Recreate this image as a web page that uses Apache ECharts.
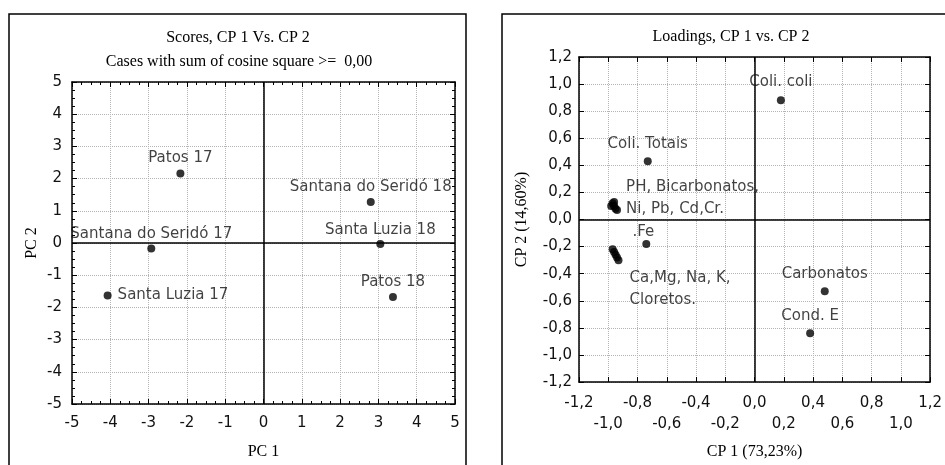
<!DOCTYPE html>
<html>
<head>
<meta charset="utf-8">
<script src="https://cdn.jsdelivr.net/npm/echarts@6/dist/echarts.min.js"></script>
<style>
html,body{margin:0;padding:0;background:#fff;}
#chart{width:945px;height:465px;}
</style>
</head>
<body>
<div id="chart"></div>
<script>
// ---- Scores (left panel) ----
const scoreNames = ['Patos 17', 'Santana do Seridó 17', 'Santa Luzia 17', 'Santana do Seridó 18', 'Santa Luzia 18', 'Patos 18'];
const scoreX = [-2.17, -2.93, -4.07, 2.80, 3.05, 3.38];
const scoreY = [2.16, -0.17, -1.63, 1.27, -0.03, -1.68];
const scoreTicks = { min: -5, max: 5, step: 1 };

// ---- Loadings (right panel) ----
const loadNames = ['Coli. coli', 'Coli. Totais', 'PH', 'Bicarbonatos', 'Ni', 'Pb', 'Cd', 'Cr', 'Fe',
                   'Ca', 'Mg', 'Na', 'K', 'Cloretos', 'Carbonatos', 'Cond. E'];
const loadX = [0.18, -0.73, -0.97, -0.96, -0.98, -0.95, -0.94, -0.96, -0.74,
               -0.97, -0.96, -0.95, -0.94, -0.93, 0.48, 0.38];
const loadY = [0.88, 0.43, 0.12, 0.10, 0.10, 0.08, 0.07, 0.13, -0.18,
               -0.22, -0.24, -0.26, -0.28, -0.30, -0.53, -0.84];
const loadLabels = ['Coli. coli', 'Coli. Totais', '', 'PH, Bicarbonatos,\nNi, Pb, Cd,Cr.', '', '', '', '', '.Fe',
                    '', '', 'Ca,Mg, Na, K,\nCloretos.', '', '', 'Carbonatos', 'Cond. E'];
const loadTicks = { min: -1.2, max: 1.2, step: 0.2 };

// label placement (style only)
const scoreLabelStyle = [
  { position: 'top', distance: 4 },
  { position: 'top', distance: 3 },
  { position: 'right', distance: 6 },
  { position: 'top', distance: 3 },
  { position: 'top', distance: 2 },
  { position: 'top', distance: 3 }
];
const loadLabelStyle = {
  'Coli. coli': { position: 'top', distance: 3 },
  'Coli. Totais': { position: 'top', distance: 2 },
  'Bicarbonatos': { position: 'right', distance: 8, offset: [0, -8] },
  'Fe': { position: 'top', distance: 0, offset: [-3, 3] },
  'Na': { position: 'right', distance: 10, offset: [0, 34] },
  'Carbonatos': { position: 'top', distance: 2 },
  'Cond. E': { position: 'top', distance: 2 }
};

const SANS = 'DejaVu Sans';
const SERIF = 'Liberation Serif';
const labelFont = { fontFamily: SANS, fontSize: 15, color: '#111' };

function fmtComma(v) { return v.toFixed(1).replace('.', ',').replace(/^-0,0$/, '0,0'); }

const gridLine = { show: true, lineStyle: { color: '#b4b4b4', type: 'dotted', width: 1 } };
const boxLine = { show: true, onZero: false, lineStyle: { color: '#000', width: 1.5 } };

function mkAxis(dim, grid, pos, ticks, opts) {
  const main = opts.main;
  const ax = {
    type: 'value', gridIndex: grid, position: pos,
    min: ticks.min, max: ticks.max, interval: ticks.step,
    axisLine: boxLine,
    axisTick: { show: true, inside: true, length: 5, lineStyle: { color: '#000', width: 1 } },
    minorTick: opts.minor ? { show: true, splitNumber: 4, length: 3, lineStyle: { color: '#000', width: 1 } } : { show: false },
    splitLine: main ? gridLine : { show: false },
    axisLabel: main ? Object.assign({ show: true, margin: opts.margin }, labelFont, opts.label || {}) : { show: false }
  };
  if (main && opts.name) {
    ax.name = opts.name;
    ax.nameLocation = 'middle';
    ax.nameGap = opts.nameGap;
    ax.nameTextStyle = { fontFamily: SERIF, fontSize: 16, color: '#000' };
  }
  return ax;
}

const zeroMark = {
  silent: true, symbol: ['none', 'none'], animation: false,
  label: { show: false },
  lineStyle: { color: '#000', type: 'solid', width: 1.5 },
  data: [{ xAxis: 0 }, { yAxis: 0 }]
};

const scoreData = scoreNames.map((n, i) => ({
  name: n, value: [scoreX[i], scoreY[i]],
  label: Object.assign({ show: true, formatter: '{b}' }, labelFont, scoreLabelStyle[i])
}));

const loadData = loadNames.map((n, i) => {
  const st = loadLabelStyle[n];
  return {
    name: n, value: [loadX[i], loadY[i]],
    label: st ? Object.assign({ show: true, formatter: loadLabels[i], lineHeight: 22 }, labelFont, st) : { show: false }
  };
});

const option = {
  animation: false,
  backgroundColor: '#fff',
  grid: [
    { left: 72, top: 82, width: 383, height: 322 },
    { left: 579, top: 57, width: 357, height: 326 }
  ],
  xAxis: [
    mkAxis('x', 0, 'bottom', scoreTicks, { main: true, minor: true, margin: 12, name: 'PC 1', nameGap: 40,
      label: { formatter: v => String(v) } }),
    mkAxis('x', 0, 'top', scoreTicks, { main: false, minor: true }),
    mkAxis('x', 1, 'bottom', loadTicks, { main: true, minor: false, margin: 11, name: 'CP 1 (73,23%)', nameGap: 62,
      label: { lineHeight: 21, formatter: (v, i) => (i % 2 === 1 ? '\n' : '') + fmtComma(v) } }),
    mkAxis('x', 1, 'top', loadTicks, { main: false, minor: false })
  ],
  yAxis: [
    mkAxis('y', 0, 'left', scoreTicks, { main: true, minor: true, margin: 10, name: 'PC 2', nameGap: 32,
      label: { formatter: v => String(v) } }),
    mkAxis('y', 0, 'right', scoreTicks, { main: false, minor: true }),
    mkAxis('y', 1, 'left', loadTicks, { main: true, minor: false, margin: 7, name: 'CP 2 (14,60%)', nameGap: 49,
      label: { formatter: v => fmtComma(v) } }),
    mkAxis('y', 1, 'right', loadTicks, { main: false, minor: false })
  ],
  series: [
    {
      type: 'scatter', xAxisIndex: 0, yAxisIndex: 0, symbol: 'circle', symbolSize: 8,
      itemStyle: { color: '#000' }, data: scoreData, markLine: zeroMark, z: 5
    },
    {
      type: 'scatter', xAxisIndex: 2, yAxisIndex: 2, symbol: 'circle', symbolSize: 8,
      itemStyle: { color: '#000' }, data: loadData, markLine: zeroMark, z: 5
    }
  ],
  graphic: [
    { type: 'rect', shape: { x: 9, y: 14, width: 457, height: 480 }, style: { fill: 'none', stroke: '#000', lineWidth: 1.5 }, silent: true },
    { type: 'rect', shape: { x: 502, y: 14, width: 470, height: 480 }, style: { fill: 'none', stroke: '#000', lineWidth: 1.5 }, silent: true },
    { type: 'text', x: 238, y: 38, style: { text: 'Scores, CP 1 Vs. CP 2', fontFamily: SERIF, fontSize: 16, fill: '#000', align: 'center', verticalAlign: 'middle' } },
    { type: 'text', x: 239, y: 62, style: { text: 'Cases with sum of cosine square >=  0,00', fontFamily: SERIF, fontSize: 16, fill: '#000', align: 'center', verticalAlign: 'middle' } },
    { type: 'text', x: 731, y: 37, style: { text: 'Loadings, CP 1 vs. CP 2', fontFamily: SERIF, fontSize: 16, fill: '#000', align: 'center', verticalAlign: 'middle' } }
  ]
};

const chart = echarts.init(document.getElementById('chart'), null, { renderer: 'canvas' });
chart.setOption(option);
</script>
</body>
</html>
